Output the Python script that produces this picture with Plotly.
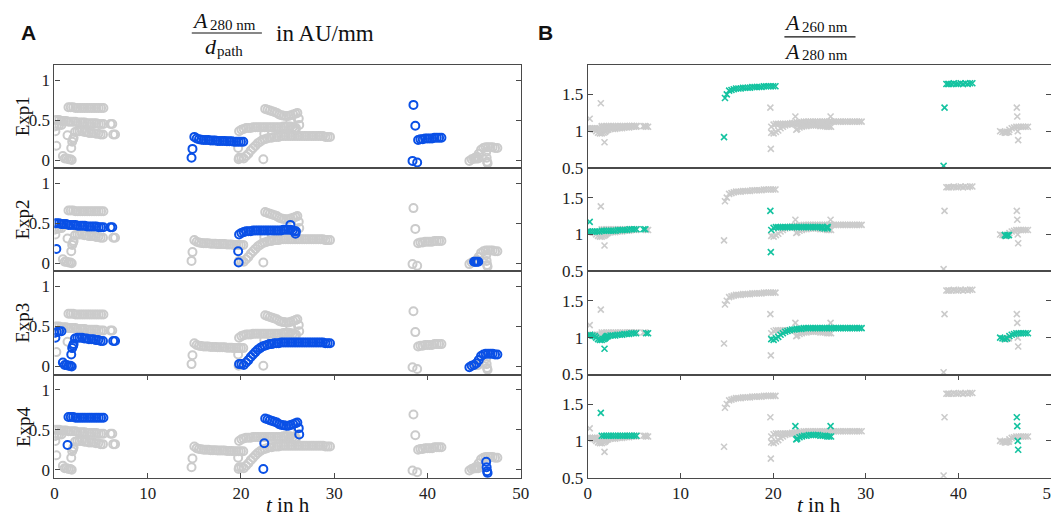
import plotly.graph_objects as go
from plotly.subplots import make_subplots

exp1_t = [14.7, 14.8,
          15.0, 15.25, 15.5, 15.75, 16.0, 16.25, 16.5, 16.75, 17.0, 17.25, 17.5, 17.75, 18.0, 18.25, 18.5, 18.75,
          19.0, 19.25, 19.5, 19.75, 20.0, 20.25,
          38.4, 38.5, 38.7, 38.9,
          39.0, 39.25, 39.5, 39.75, 40.0, 40.25, 40.5, 40.75, 41.0, 41.25, 41.5]
exp1_a280 = [0.03, 0.14,
             0.29, 0.27, 0.26, 0.255, 0.25, 0.25, 0.25, 0.245, 0.245, 0.245, 0.24, 0.24, 0.24, 0.24, 0.235, 0.235,
             0.235, 0.23, 0.23, 0.23, 0.23, 0.23,
             -0.01, 0.69, 0.43, -0.03,
             0.25, 0.26, 0.26, 0.27, 0.27, 0.27, 0.27, 0.28, 0.28, 0.28, 0.28]
exp1_ratio = [0.92, 1.45,
              1.50, 1.55, 1.56, 1.57, 1.58, 1.58, 1.58, 1.59, 1.59, 1.59, 1.59, 1.60, 1.60, 1.60, 1.60, 1.60,
              1.61, 1.61, 1.61, 1.61, 1.61, 1.61,
              0.53, 1.32, 1.64, 1.64,
              1.64, 1.64, 1.65, 1.64, 1.64, 1.65, 1.64, 1.65, 1.64, 1.65, 1.65]

exp2_t = [0.2,
          0.0, 0.25, 0.5, 0.75, 1.0, 1.25, 1.5, 1.75, 2.0, 2.25, 2.5, 2.75, 3.0, 3.25, 3.5, 3.75, 4.0, 4.25,
          4.5, 4.75, 5.0, 5.25, 6.0, 6.2,
          19.7, 19.75,
          19.8, 20.05, 20.3, 20.55, 20.8, 21.05, 21.3, 21.55, 21.8, 22.05, 22.3, 22.55, 22.8, 23.05, 23.3,
          23.55, 23.8, 24.05, 24.3, 24.55, 24.8, 25.05, 25.3, 25.55, 25.8,
          25.3, 25.85, 25.9,
          45.0, 45.15, 45.3, 45.45]
exp2_a280 = [0.18,
             0.50, 0.50, 0.50, 0.49, 0.49, 0.49, 0.48, 0.48, 0.48, 0.48, 0.47, 0.47, 0.47, 0.47, 0.46, 0.46, 0.46, 0.46,
             0.46, 0.45, 0.45, 0.45, 0.45, 0.45,
             0.15, 0.01,
             0.36, 0.38, 0.39, 0.40, 0.40, 0.40, 0.41, 0.41, 0.41, 0.41, 0.41, 0.41, 0.41, 0.41, 0.41,
             0.41, 0.41, 0.41, 0.41, 0.42, 0.42, 0.42, 0.42, 0.41, 0.40,
             0.48, 0.37, 0.40,
             0.02, 0.02, 0.02, 0.02]
exp2_ratio = [1.17,
              1.04, 1.04, 1.04, 1.04, 1.04, 1.04, 1.05, 1.05, 1.05, 1.05, 1.05, 1.05, 1.05, 1.06, 1.06, 1.06, 1.06, 1.06,
              1.07, 1.07, 1.07, 1.07, 1.07, 1.07,
              1.32, 0.76,
              1.06, 1.09, 1.10, 1.10, 1.10, 1.10, 1.10, 1.10, 1.10, 1.10, 1.10, 1.10, 1.10, 1.10, 1.10,
              1.10, 1.10, 1.10, 1.10, 1.10, 1.10, 1.10, 1.09, 1.08, 1.10,
              1.10, 1.08, 1.10,
              0.99, 0.98, 0.99, 0.99]

exp3_t = [0.0, 0.1, 0.25, 0.5, 0.75,
          0.9, 1.1, 1.3, 1.5, 1.7, 1.85,
          1.8, 1.9, 2.0, 2.05,
          2.2, 2.45, 2.7, 2.95, 3.2, 3.45, 3.7, 3.95, 4.2, 4.45, 4.7, 4.95, 5.2,
          6.3, 6.5,
          19.8, 20.05, 20.3, 20.55, 20.8, 21.05, 21.3, 21.55, 21.8, 22.05, 22.3, 22.55, 22.8, 23.05, 23.3,
          23.55, 23.8, 24.05, 24.3, 24.55, 24.8, 25.05, 25.3, 25.55, 25.8, 26.05, 26.3, 26.55, 26.8, 27.05,
          27.3, 27.55, 27.8, 28.05, 28.3, 28.55, 28.8, 29.05, 29.3, 29.55,
          44.5, 44.75, 45.0, 45.25, 45.5, 45.75, 46.0, 46.25, 46.5, 46.75, 47.0, 47.25, 47.5]
exp3_a280 = [0.42, 0.36, 0.43, 0.44, 0.44,
             0.05, 0.02, 0.02, 0.01, 0.01, 0.0,
             0.15, 0.23, 0.26, 0.28,
             0.35, 0.36, 0.36, 0.36, 0.35, 0.35, 0.34, 0.34, 0.34, 0.33, 0.33, 0.32, 0.32,
             0.32, 0.32,
             0.03, 0.03, 0.02, 0.05, 0.08, 0.12, 0.15, 0.18, 0.21, 0.23, 0.25, 0.26, 0.27, 0.28, 0.28,
             0.29, 0.29, 0.29, 0.30, 0.30, 0.30, 0.30, 0.30, 0.30, 0.30, 0.30, 0.30, 0.30, 0.30, 0.30,
             0.30, 0.30, 0.30, 0.30, 0.30, 0.30, 0.30, 0.29, 0.29, 0.29,
             -0.01, 0.01, 0.02, 0.04, 0.08, 0.13, 0.15, 0.16, 0.16, 0.16, 0.16, 0.15, 0.15]
exp3_ratio = [1.03, 1.03, 1.04, 1.03, 1.02,
              1.00, 0.98, 0.97, 0.97, 0.98, 0.99,
              0.85, 1.00, 1.01, 1.02,
              1.02, 1.03, 1.03, 1.03, 1.04, 1.04, 1.04, 1.05, 1.05, 1.05, 1.06, 1.06, 1.06,
              1.06, 1.06,
              0.98, 0.97, 0.99, 1.01, 1.04, 1.06, 1.08, 1.09, 1.10, 1.11, 1.11, 1.12, 1.12, 1.12, 1.13,
              1.13, 1.13, 1.13, 1.13, 1.13, 1.13, 1.13, 1.13, 1.13, 1.13, 1.13, 1.13, 1.13, 1.13, 1.13,
              1.13, 1.13, 1.13, 1.13, 1.13, 1.13, 1.13, 1.13, 1.13, 1.13,
              1.00, 0.99, 0.98, 0.99, 1.02, 1.04, 1.05, 1.06, 1.06, 1.06, 1.06, 1.06, 1.06]

exp4_t = [1.4,
          1.5, 1.75, 2.0, 2.25, 2.5, 2.75, 3.0, 3.25, 3.5, 3.75, 4.0, 4.25, 4.5, 4.75, 5.0, 5.25,
          22.4, 22.5,
          22.6, 22.85, 23.1, 23.35, 23.6, 23.85, 24.1, 24.35, 24.6, 24.85, 25.1, 25.35, 25.6, 25.85, 26.05,
          26.2, 26.25,
          46.3, 46.35, 46.4, 46.45]
exp4_a280 = [0.31,
             0.66, 0.66, 0.66, 0.65, 0.65, 0.65, 0.65, 0.65, 0.65, 0.65, 0.65, 0.65, 0.65, 0.65, 0.65, 0.65,
             0.01, 0.33,
             0.64, 0.63, 0.62, 0.61, 0.60, 0.59, 0.57, 0.56, 0.555, 0.55, 0.55, 0.56, 0.57, 0.58, 0.59,
             0.52, 0.44,
             0.10, 0.03, -0.02, -0.04]
exp4_ratio = [1.38,
              1.07, 1.07, 1.07, 1.07, 1.07, 1.07, 1.07, 1.07, 1.07, 1.07, 1.07, 1.07, 1.07, 1.07, 1.07, 1.07,
              1.20, 1.02,
              1.03, 1.05, 1.06, 1.07, 1.07, 1.08, 1.08, 1.08, 1.08, 1.08, 1.07, 1.07, 1.07, 1.06, 1.06,
              1.20, 1.06,
              1.32, 1.20, 1.00, 0.88]

exp_names = ["Exp1", "Exp2", "Exp3", "Exp4"]
all_t = [exp1_t, exp2_t, exp3_t, exp4_t]
all_a280 = [exp1_a280, exp2_a280, exp3_a280, exp4_a280]
all_ratio = [exp1_ratio, exp2_ratio, exp3_ratio, exp4_ratio]

GREY = "#cbcbcb"
BLUE = "#0a50e6"
GREEN = "#14c3a0"
FRAME = "#4a4a4a"
FONT = "Liberation Serif"

W, H = 1059, 517

fig = make_subplots(rows=4, cols=2, vertical_spacing=0, horizontal_spacing=0.05)

for i in range(4):
    for col, vals, sym, color, size, lw in [(1, all_a280, "circle-open", BLUE, 8, 2),
                                            (2, all_ratio, "x-thin", GREEN, 6, 1.6)]:
        # other experiments in grey as background
        gx, gy = [], []
        for j in range(4):
            if j != i:
                gx += all_t[j]
                gy += vals[j]
        fig.add_trace(go.Scatter(x=gx, y=gy, mode="markers", showlegend=False, hoverinfo="skip",
                                 marker=dict(symbol=sym, size=size, color=GREY,
                                             line=dict(color=GREY, width=lw))),
                      row=i + 1, col=col)
        fig.add_trace(go.Scatter(x=all_t[i], y=vals[i], mode="markers", showlegend=False,
                                 marker=dict(symbol=sym, size=size, color=color,
                                             line=dict(color=color, width=lw))),
                      row=i + 1, col=col)

# layout in pixels -> paper
top, bottom = 58, 479
row_h = (bottom - top) / 4
x_dom = {1: [43 / W, 515 / W], 2: [583 / W, 1052 / W]}

for r in range(1, 5):
    y0 = 1 - (top + r * row_h) / H
    y1 = 1 - (top + (r - 1) * row_h) / H
    for c in (1, 2):
        last = r == 4
        fig.update_xaxes(row=r, col=c, domain=x_dom[c], range=[0, 50], showgrid=False, zeroline=False,
                         showline=True, linecolor=FRAME, linewidth=1.2,
                         mirror="ticks" if last else True,
                         ticks="inside" if last else "", ticklen=5, tickcolor=FRAME,
                         tickvals=[0, 10, 20, 30, 40, 50], showticklabels=last,
                         tickfont=dict(family=FONT, size=17, color="#222"))
        if c == 1:
            yr, tv, tt = [-0.1, 1.19], [0, 0.5, 1], ["0", "0.5", "1"]
        else:
            yr, tv, tt = [0.5, 1.9], [0.5, 1, 1.5], ["0.5", "1", "1.5"]
        fig.update_yaxes(row=r, col=c, domain=[y0, y1], range=yr, showgrid=False, zeroline=False,
                         showline=True, linecolor=FRAME, linewidth=1.2, mirror="ticks",
                         ticks="inside", ticklen=5, tickcolor=FRAME, tickvals=tv, ticktext=tt,
                         tickfont=dict(family=FONT, size=17, color="#222"))

annotations = []


def px_ann(text, x, y, size, family=FONT, angle=0, bold=False, xanchor="center"):
    annotations.append(dict(text=f"<b>{text}</b>" if bold else text, x=x / W, y=1 - y / H,
                            xref="paper", yref="paper", showarrow=False, xanchor=xanchor,
                            yanchor="middle", textangle=angle,
                            font=dict(family=family, size=size, color="#111")))


# panel letters
px_ann("A", 17, 25, 21, family="Liberation Sans", bold=True)
px_ann("B", 540, 25, 21, family="Liberation Sans", bold=True)

# panel A title: A_280nm / d_path in AU/mm
px_ann("<i>A</i>", 190, 13, 22)
px_ann("280 nm", 198, 17, 15, xanchor="left")
px_ann("<i>d</i>", 201, 39, 22)
px_ann("path", 206, 44, 15, xanchor="left")
px_ann("in AU/mm", 317, 26, 23)

# panel B title: A_260nm / A_280nm
px_ann("<i>A</i>", 790, 15, 22)
px_ann("260 nm", 798, 19, 15, xanchor="left")
px_ann("<i>A</i>", 790, 44, 22)
px_ann("280 nm", 798, 48, 15, xanchor="left")

# row labels
for r, name in enumerate(exp_names):
    px_ann(name, 11, top + (r + 0.5) * row_h, 19, angle=-90)

# x titles
px_ann("<i>t</i> in h", 279, 507, 21)
px_ann("<i>t</i> in h", 817, 507, 21)

shapes = [
    dict(type="line", xref="paper", yref="paper", x0=182 / W, x1=253 / W, y0=1 - 25.5 / H, y1=1 - 25.5 / H,
         line=dict(color="#111", width=1.2)),
    dict(type="line", xref="paper", yref="paper", x0=782 / W, x1=854 / W, y0=1 - 29.5 / H, y1=1 - 29.5 / H,
         line=dict(color="#111", width=1.2)),
]

fig.update_layout(width=W, height=H, margin=dict(l=0, r=0, t=0, b=0),
                  plot_bgcolor="white", paper_bgcolor="white",
                  annotations=annotations, shapes=shapes,
                  font=dict(family=FONT, size=16, color="#222"))

fig.write_html("out.html")
